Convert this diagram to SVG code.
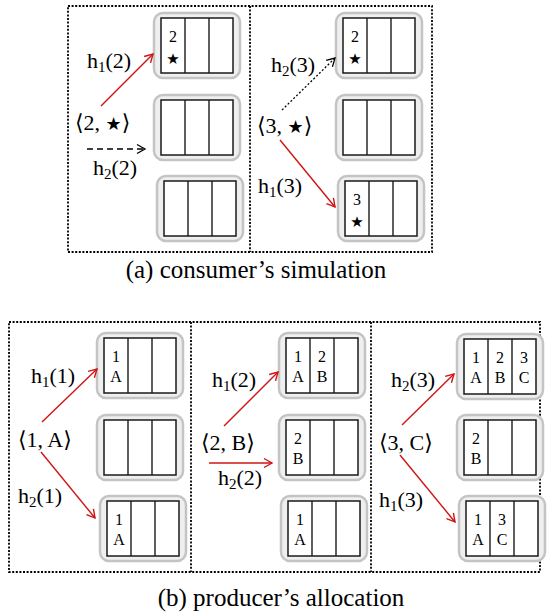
<svg xmlns="http://www.w3.org/2000/svg" width="547" height="614" viewBox="0 0 547 614">
<style>
  .frame{fill:none;stroke:#000;stroke-width:1.8;stroke-dasharray:2 1.6}
  .outer{fill:#efefef;stroke:#c4c4c4;stroke-width:2.5}
  .inner{fill:#fff;stroke:#1a1a1a;stroke-width:1.5}
  .div{stroke:#1a1a1a;stroke-width:1.4}
  .lbl{font-family:'Liberation Serif','Times New Roman','DejaVu Serif',serif;font-size:22px;fill:#000}
  .cell{font-family:'Liberation Serif','Times New Roman','DejaVu Serif',serif;font-size:16px;fill:#000;text-anchor:middle}
  .star{font-family:'DejaVu Sans',sans-serif;font-size:15px;fill:#000;text-anchor:middle}
  .cap{font-family:'Liberation Serif','Times New Roman','DejaVu Serif',serif;font-size:25px;fill:#000;text-anchor:middle}
  .red{stroke:#d01414;stroke-width:1.4;fill:none}
  .blk{stroke:#000;stroke-width:1.3;fill:none}
</style>
<defs>
  <g id="box">
    <rect class="outer" x="0" y="0" width="86" height="65" rx="9"/>
    <rect class="inner" x="7" y="5" width="72" height="55"/>
    <line class="div" x1="31" y1="5" x2="31" y2="60"/>
    <line class="div" x1="55" y1="5" x2="55" y2="60"/>
  </g>
  <marker id="ar" viewBox="-10 -6 12 12" markerWidth="12" markerHeight="12" markerUnits="userSpaceOnUse" orient="auto" refX="0" refY="0">
    <path d="M-8,-4.5 L0,0 L-8,4.5" fill="none" stroke="#d01414" stroke-width="1.4"/>
  </marker>
  <marker id="ab" viewBox="-10 -6 12 12" markerWidth="12" markerHeight="12" markerUnits="userSpaceOnUse" orient="auto" refX="0" refY="0">
    <path d="M-8,-4.5 L0,0 L-8,4.5" fill="none" stroke="#000" stroke-width="1.3"/>
  </marker>
</defs>

<g id="frames">
  <rect class="frame" x="68" y="6" width="364" height="246"/>
  <line class="frame" x1="250" y1="6" x2="250" y2="252"/>
  <rect class="frame" x="9" y="322" width="531" height="250"/>
  <line class="frame" x1="191" y1="322" x2="191" y2="572"/>
  <line class="frame" x1="371" y1="322" x2="371" y2="572"/>
</g>

<!-- (a) left -->
<g id="a-l-b1" transform="translate(154,13)"><use href="#box"/><text class="cell" x="19" y="29">2</text><text class="star" x="19" y="51">★</text></g>
<g id="a-l-b2" transform="translate(154,95)"><use href="#box"/></g>
<g id="a-l-b3" transform="translate(157,176)"><use href="#box"/></g>
<!-- (a) right -->
<g id="a-r-b1" transform="translate(336,13)"><use href="#box"/><text class="cell" x="19" y="29">2</text><text class="star" x="19" y="51">★</text></g>
<g id="a-r-b2" transform="translate(336,95)"><use href="#box"/></g>
<g id="a-r-b3" transform="translate(338,176)"><use href="#box"/><text class="cell" x="19" y="29">3</text><text class="star" x="19" y="51">★</text></g>
<!-- (b) left -->
<g id="b-l-b1" transform="translate(97,333)"><use href="#box"/><text class="cell" x="19" y="29">1</text><text class="cell" x="19" y="49">A</text></g>
<g id="b-l-b2" transform="translate(97,415)"><use href="#box"/></g>
<g id="b-l-b3" transform="translate(100,496)"><use href="#box"/><text class="cell" x="19" y="29">1</text><text class="cell" x="19" y="49">A</text></g>
<!-- (b) middle -->
<g id="b-m-b1" transform="translate(279,333)"><use href="#box"/><text class="cell" x="19" y="29">1</text><text class="cell" x="19" y="49">A</text><text class="cell" x="43" y="29">2</text><text class="cell" x="43" y="49">B</text></g>
<g id="b-m-b2" transform="translate(279,415)"><use href="#box"/><text class="cell" x="19" y="29">2</text><text class="cell" x="19" y="49">B</text></g>
<g id="b-m-b3" transform="translate(281,496)"><use href="#box"/><text class="cell" x="19" y="29">1</text><text class="cell" x="19" y="49">A</text></g>
<!-- (b) right -->
<g id="b-r-b1" transform="translate(457,334)"><use href="#box"/><text class="cell" x="19" y="29">1</text><text class="cell" x="19" y="49">A</text><text class="cell" x="43" y="29">2</text><text class="cell" x="43" y="49">B</text><text class="cell" x="67" y="29">3</text><text class="cell" x="67" y="49">C</text></g>
<g id="b-r-b2" transform="translate(457,415)"><use href="#box"/><text class="cell" x="19" y="29">2</text><text class="cell" x="19" y="49">B</text></g>
<g id="b-r-b3" transform="translate(459,496)"><use href="#box"/><text class="cell" x="19" y="29">1</text><text class="cell" x="19" y="49">A</text><text class="cell" x="43" y="29">3</text><text class="cell" x="43" y="49">C</text></g>

<!-- tuples -->
<g id="t-a1"><text class="lbl" x="75" y="130">⟨2, <tspan font-family="DejaVu Sans" font-size="18">★</tspan>⟩</text></g>
<g id="t-a2"><text class="lbl" x="257" y="133">⟨3, <tspan font-family="DejaVu Sans" font-size="18">★</tspan>⟩</text></g>
<g id="t-b1"><text class="lbl" x="18" y="447">⟨1, A⟩</text></g>
<g id="t-b2"><text class="lbl" x="201" y="450">⟨2, B⟩</text></g>
<g id="t-b3"><text class="lbl" x="379" y="450">⟨3, C⟩</text></g>

<g id="connectors">
  <line class="red" x1="101" y1="106" x2="153" y2="54" marker-end="url(#ar)"/>
  <line class="blk" x1="87" y1="149" x2="145" y2="149" stroke-dasharray="6 4" marker-end="url(#ab)"/>
  <line class="blk" x1="282" y1="110" x2="335" y2="58" stroke-width="1" stroke-dasharray="2 2" marker-end="url(#ab)"/>
  <line class="red" x1="280" y1="140" x2="335" y2="207" marker-end="url(#ar)"/>
  <line class="red" x1="42" y1="422" x2="97" y2="369" marker-end="url(#ar)"/>
  <line class="red" x1="41" y1="452" x2="95" y2="518" marker-end="url(#ar)"/>
  <line class="red" x1="224" y1="426" x2="278" y2="372" marker-end="url(#ar)"/>
  <line class="red" x1="209" y1="463" x2="272" y2="463" marker-end="url(#ar)"/>
  <line class="red" x1="402" y1="425" x2="454" y2="374" marker-end="url(#ar)"/>
  <line class="red" x1="400" y1="455" x2="455" y2="522" marker-end="url(#ar)"/>
</g>

<g id="edge-labels">
  <text class="lbl" x="87" y="68">h<tspan font-size="15" dy="4">1</tspan><tspan dy="-4">(2)</tspan></text>
  <text class="lbl" x="93" y="175">h<tspan font-size="15" dy="4">2</tspan><tspan dy="-4">(2)</tspan></text>
  <text class="lbl" x="271" y="72">h<tspan font-size="15" dy="4">2</tspan><tspan dy="-4">(3)</tspan></text>
  <text class="lbl" x="258" y="193">h<tspan font-size="15" dy="4">1</tspan><tspan dy="-4">(3)</tspan></text>
  <text class="lbl" x="31" y="383">h<tspan font-size="15" dy="4">1</tspan><tspan dy="-4">(1)</tspan></text>
  <text class="lbl" x="18" y="503">h<tspan font-size="15" dy="4">2</tspan><tspan dy="-4">(1)</tspan></text>
  <text class="lbl" x="212" y="387">h<tspan font-size="15" dy="4">1</tspan><tspan dy="-4">(2)</tspan></text>
  <text class="lbl" x="218" y="485">h<tspan font-size="15" dy="4">2</tspan><tspan dy="-4">(2)</tspan></text>
  <text class="lbl" x="391" y="387">h<tspan font-size="15" dy="4">2</tspan><tspan dy="-4">(3)</tspan></text>
  <text class="lbl" x="379" y="507">h<tspan font-size="15" dy="4">1</tspan><tspan dy="-4">(3)</tspan></text>
</g>

<g id="captions">
  <text class="cap" x="256" y="278">(a) consumer’s simulation</text>
  <text class="cap" x="281" y="606">(b) producer’s allocation</text>
</g>
</svg>
